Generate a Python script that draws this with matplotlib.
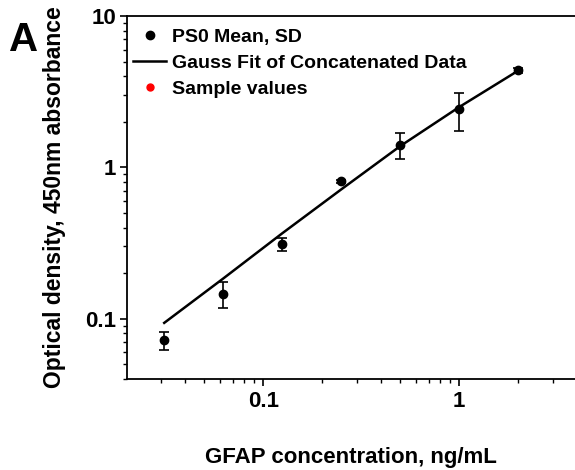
import numpy as np
import matplotlib
matplotlib.use("Agg")
import matplotlib.pyplot as plt

plt.rcParams['font.family'] = ['Liberation Sans', 'DejaVu Sans']
plt.rcParams['font.weight'] = 'bold'

conc = [0.03125, 0.0625, 0.125, 0.25, 0.5, 1.0, 2.0]
od_mean = [0.072, 0.146, 0.31, 0.81, 1.41, 2.42, 4.37]
od_sd = [0.010, 0.028, 0.03, 0.02, 0.28, 0.69, 0.15]
fit_od = [0.0937, 0.184, 0.366, 0.714, 1.38, 2.50, 4.35]

fig = plt.figure(figsize=(5.75, 4.7), dpi=100)
ax = fig.add_axes([0.221, 0.194, 0.779, 0.772])

ax.errorbar(conc, od_mean, yerr=od_sd, fmt='o', color='black', ms=6,
            capsize=3.5, elinewidth=1.2, capthick=1.2, zorder=3)
ax.plot(conc, fit_od, color='black', lw=1.8)

# legend handles
h1, = ax.plot([], [], 'o', color='black', ms=6, label='PS0 Mean, SD')
h2, = ax.plot([], [], '-', color='black', lw=1.8, label='Gauss Fit of Concatenated Data')
h3, = ax.plot([], [], 'o', color='red', ms=5, label='Sample values')

ax.set_xscale('log')
ax.set_yscale('log')
ax.set_xlim(0.0202, 3.9)
ax.set_ylim(0.04, 10)
ax.set_xticks([0.1, 1])
ax.set_xticklabels(['0.1', '1'])
ax.set_yticks([0.1, 1, 10])
ax.set_yticklabels(['0.1', '1', '10'])

for s in ['left', 'bottom', 'top']:
    ax.spines[s].set_linewidth(1.3)
ax.spines['right'].set_visible(False)
ax.tick_params(which='major', direction='out', length=5, width=1.2, labelsize=16)
ax.tick_params(which='minor', direction='out', length=3, width=1.0)
ax.tick_params(axis='x', which='both', top=False)
ax.tick_params(axis='x', which='major', pad=4)
ax.tick_params(axis='y', which='major', pad=3)

ax.set_xlabel('GFAP concentration, ng/mL', fontsize=16, fontweight='bold', labelpad=25)
ax.set_ylabel('Optical density, 450nm absorbance', fontsize=16.5, fontweight='bold', labelpad=14)

ax.legend(handles=[h1, h2, h3], loc='upper left', bbox_to_anchor=(-0.014, 1.0),
          frameon=False, fontsize=14,
          handlelength=1.7, borderaxespad=0.1, borderpad=0.55,
          handletextpad=0.3, labelspacing=0.42)

fig.text(0.015, 0.955, 'A', fontsize=29, fontweight='bold', va='top', ha='left')

fig.savefig('out.png', dpi=100)
